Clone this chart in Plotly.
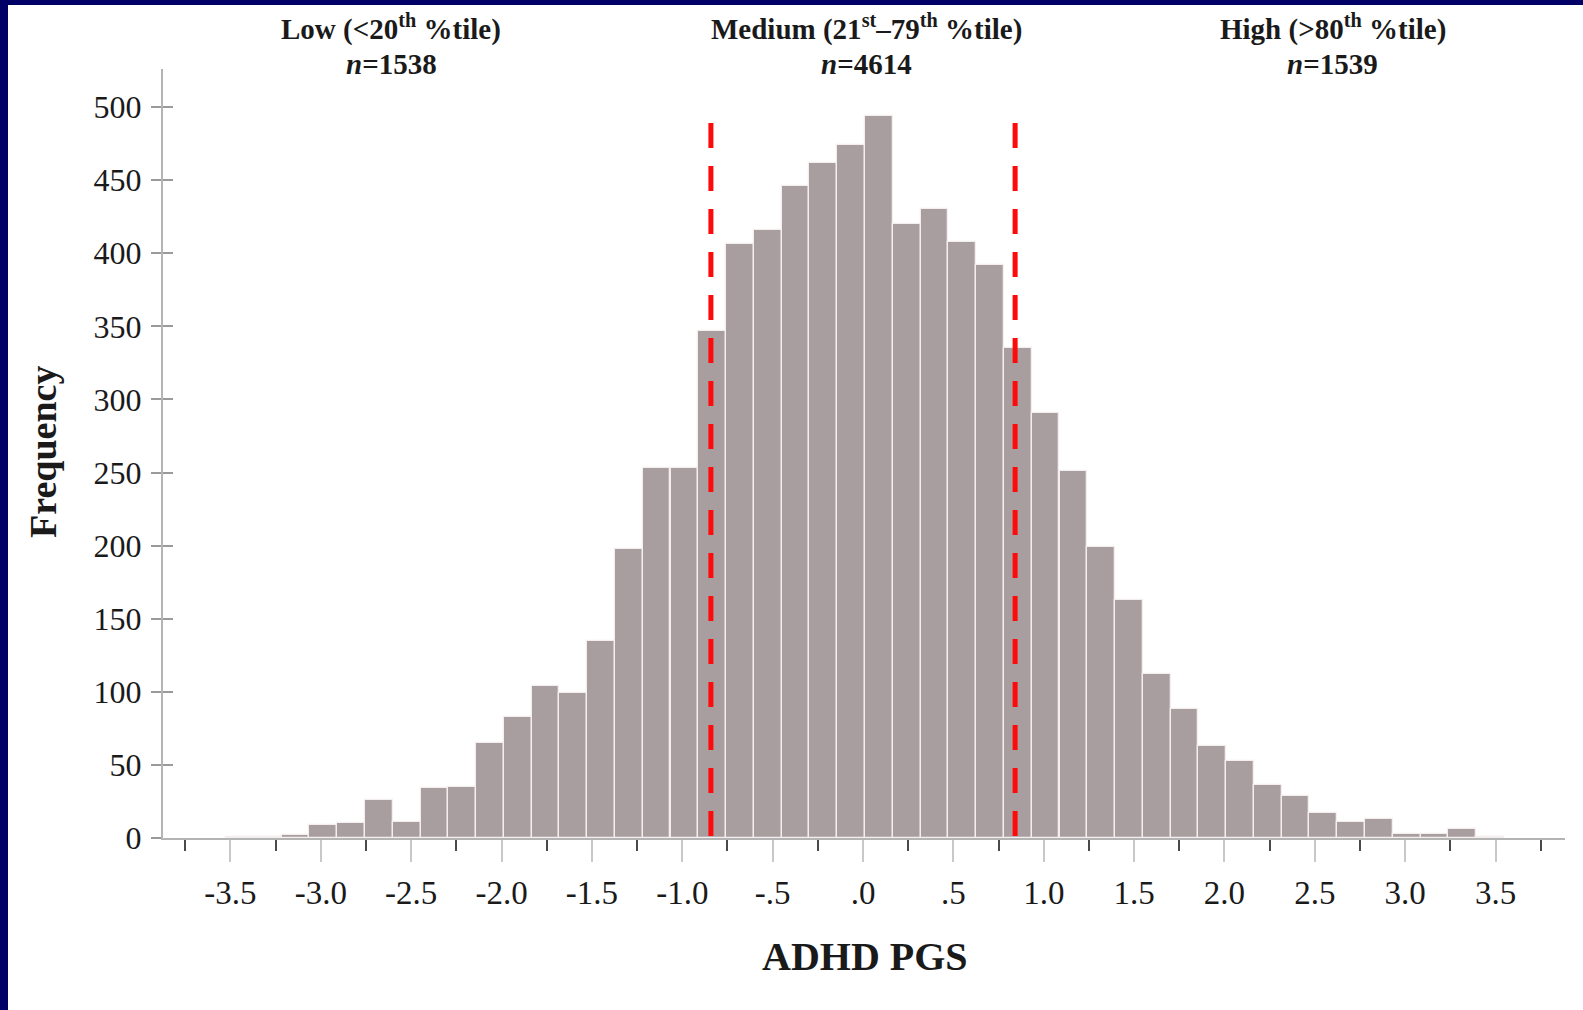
import plotly.graph_objects as go

# ---------------- data ----------------
bin_centers = [-3.447, -3.294, -3.140, -2.986, -2.832, -2.679, -2.525, -2.371, -2.218, -2.064,
               -1.910, -1.757, -1.603, -1.449, -1.295, -1.142, -0.988, -0.834, -0.681, -0.527,
               -0.373, -0.220, -0.066, 0.088, 0.242, 0.395, 0.549, 0.703, 0.856, 1.010,
               1.164, 1.317, 1.471, 1.625, 1.779, 1.932, 2.086, 2.240, 2.393, 2.547,
               2.701, 2.854, 3.008, 3.162, 3.316, 3.469]
frequencies = [1, 1, 2, 9, 10, 26, 11, 34, 35, 65,
               83, 104, 99, 135, 198, 253, 253, 347, 406, 416,
               446, 462, 474, 494, 420, 430, 408, 392, 335, 291,
               251, 199, 163, 112, 88, 63, 53, 36, 29, 17,
               11, 13, 3, 3, 6, 1]
bin_width = 0.1537

cutoffs = [-0.8416, 0.8416]          # 20th / 80th percentile
cutoff_line_top = 489

x_tickvals = [-3.5, -3.0, -2.5, -2.0, -1.5, -1.0, -0.5, 0.0, 0.5, 1.0, 1.5, 2.0, 2.5, 3.0, 3.5]
x_ticktext = ["-3.5", "-3.0", "-2.5", "-2.0", "-1.5", "-1.0", "-.5", ".0", ".5",
              "1.0", "1.5", "2.0", "2.5", "3.0", "3.5"]
x_minorvals = [-3.75, -3.25, -2.75, -2.25, -1.75, -1.25, -0.75, -0.25,
               0.25, 0.75, 1.25, 1.75, 2.25, 2.75, 3.25, 3.75]
y_tickvals = [0, 50, 100, 150, 200, 250, 300, 350, 400, 450, 500]

group_labels = ["<b>Low (&lt;20<sup>th</sup> %tile)</b>",
                "<b>Medium (21<sup>st</sup>–79<sup>th</sup> %tile)</b>",
                "<b>High (&gt;80<sup>th</sup> %tile)</b>"]
group_n = ["<b><i>n</i>=1538</b>", "<b><i>n</i>=4614</b>", "<b><i>n</i>=1539</b>"]
group_x = [-2.61, 0.02, 2.60]

x_title = "ADHD PGS"
y_title = "Frequency"

# ---------------- layout params ----------------
W, H = 1583, 1010
L, R, T, B = 163, 18, 69, 172
PW, PH = W - L - R, H - T - B
FONT = "Liberation Serif"
BAR_COLOR = "#a99e9f"
AXIS_COLOR = "#b4b4b4"


def px_to_paper_x(px):
    return (px - L) / PW


def py_to_paper_y(py):
    return (H - B - py) / PH


fig = go.Figure()

fig.add_trace(go.Bar(
    x=bin_centers, y=frequencies, width=bin_width,
    marker=dict(color=BAR_COLOR, line=dict(color="#f4eeee", width=1.3)),
    showlegend=False,
))

for c in cutoffs:
    fig.add_trace(go.Scatter(
        x=[c, c], y=[cutoff_line_top, 0], mode="lines",
        line=dict(color="#ff0a0a", width=5, dash="25px,18px"),
        showlegend=False,
    ))

# dummy trace so the overlaying y-axis (inner half of cross ticks) gets drawn
fig.add_trace(go.Scatter(x=[], y=[], yaxis="y2", showlegend=False))

annotations = []
for lab, n, gx in zip(group_labels, group_n, group_x):
    annotations.append(dict(x=gx, xref="x", y=py_to_paper_y(28), yref="paper",
                            text=lab, showarrow=False, yanchor="middle",
                            font=dict(family=FONT, size=29, color="#1a1a1a")))
    annotations.append(dict(x=gx, xref="x", y=py_to_paper_y(64), yref="paper",
                            text=n, showarrow=False, yanchor="middle",
                            font=dict(family=FONT, size=29, color="#1a1a1a")))

annotations.append(dict(x=px_to_paper_x(865), xref="paper", y=py_to_paper_y(956), yref="paper",
                        text="<b>%s</b>" % x_title, showarrow=False, yanchor="middle",
                        font=dict(family=FONT, size=40, color="#1a1a1a")))
annotations.append(dict(x=px_to_paper_x(43), xref="paper", y=py_to_paper_y(452), yref="paper",
                        text="<b>%s</b>" % y_title, showarrow=False, textangle=-90,
                        xanchor="center", yanchor="middle",
                        font=dict(family=FONT, size=38, color="#1a1a1a")))

NAVY = "#000066"
shapes = [
    dict(type="rect", xref="paper", yref="paper", layer="above",
         x0=px_to_paper_x(0), x1=px_to_paper_x(8),
         y0=py_to_paper_y(H), y1=py_to_paper_y(0),
         fillcolor=NAVY, line=dict(width=0)),
    dict(type="rect", xref="paper", yref="paper", layer="above",
         x0=px_to_paper_x(0), x1=px_to_paper_x(W),
         y0=py_to_paper_y(5), y1=py_to_paper_y(0),
         fillcolor=NAVY, line=dict(width=0)),
]

fig.update_layout(
    width=W, height=H,
    margin=dict(l=L, r=R, t=T, b=B, pad=0),
    paper_bgcolor="white", plot_bgcolor="white",
    bargap=0,
    font=dict(family=FONT, color="#1a1a1a"),
    annotations=annotations,
    shapes=shapes,
    xaxis=dict(
        range=[-3.873, 3.884], showgrid=False, zeroline=False,
        showline=True, linecolor=AXIS_COLOR, linewidth=2,
        tickmode="array", tickvals=x_tickvals, ticktext=x_ticktext,
        ticks="outside", ticklen=22, tickwidth=1.5, tickcolor="#c8c8c8",
        tickfont=dict(family=FONT, size=33, color="#1a1a1a"),
        ticklabelstandoff=2,
        minor=dict(tickmode="array", tickvals=x_minorvals, ticks="outside",
                   ticklen=11, tickwidth=2, tickcolor="#4a4a4a"),
    ),
    yaxis=dict(
        range=[0, 526], showgrid=False, zeroline=False,
        showline=True, linecolor=AXIS_COLOR, linewidth=2,
        tickmode="array", tickvals=y_tickvals,
        ticks="outside", ticklen=10, tickwidth=1.5, tickcolor="#9a9a9a",
        tickfont=dict(family=FONT, size=32, color="#1a1a1a"),
        ticklabelstandoff=3,
    ),
    yaxis2=dict(
        range=[0, 526], overlaying="y", side="left", showgrid=False, zeroline=False,
        showline=False, tickmode="array", tickvals=y_tickvals,
        ticks="inside", ticklen=10, tickwidth=1.5, tickcolor="#9a9a9a",
        showticklabels=False,
    ),
)

fig.write_html("out.html")
